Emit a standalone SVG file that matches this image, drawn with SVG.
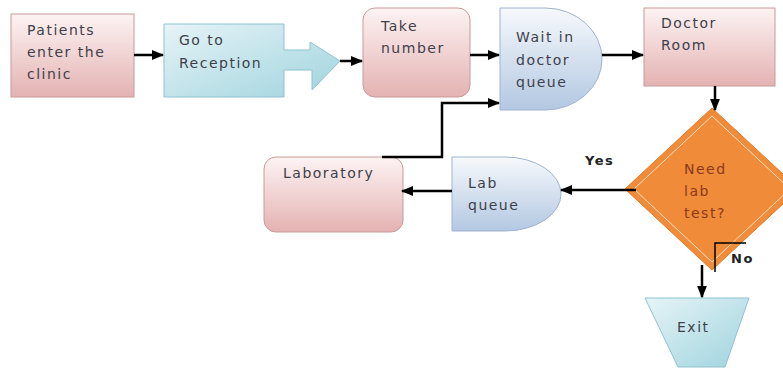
<svg xmlns="http://www.w3.org/2000/svg" width="783" height="368" viewBox="0 0 783 368">
<defs>
<linearGradient id="pink" x1="0" y1="0" x2="0" y2="1"><stop offset="0" stop-color="#fdf3f3"/><stop offset="1" stop-color="#e4b2b2"/></linearGradient>
<linearGradient id="teal" x1="0" y1="0" x2="1" y2="1"><stop offset="0" stop-color="#e6f4f7"/><stop offset="1" stop-color="#9fd3de"/></linearGradient>
<linearGradient id="blue" x1="0" y1="0" x2="0" y2="1"><stop offset="0" stop-color="#f6f9fc"/><stop offset="1" stop-color="#b3c8e2"/></linearGradient>
<marker id="ah" viewBox="0 0 10 10" refX="9" refY="5" markerWidth="5" markerHeight="5" orient="auto-start-reverse" markerUnits="strokeWidth"><path d="M0,1 L10,5 L0,9 z" fill="#000"/></marker>
<style>
.pk{fill:url(#pink);stroke:#c99a9a;stroke-width:1}
.tl{fill:url(#teal);stroke:#8fc3cf;stroke-width:1}
.bl{fill:url(#blue);stroke:#9fb3cf;stroke-width:1}
.t{font-family:"DejaVu Sans",sans-serif;font-size:14px;fill:#3f3f4a;letter-spacing:1.5px}
.d{fill:#8a3a1a}
.c{fill:none;stroke:#000;stroke-width:2.5}
.lb{font-family:"DejaVu Sans",sans-serif;font-size:13px;font-weight:bold;fill:#222;letter-spacing:1.5px}
</style>
</defs>
<g id="patients"><rect class="pk" x="11" y="14" width="123" height="83"/><text class="t" x="27" y="35">Patients</text><text class="t" x="27" y="57">enter the</text><text class="t" x="27" y="79">clinic</text></g>
<g id="reception"><path class="tl" d="M164,24 H284 V50 H310 V42 L340,61 L312,90 V70 H284 V97 H164 Z"/><text class="t" x="179" y="45">Go to</text><text class="t" x="179" y="68">Reception</text></g>
<g id="take"><rect class="pk" x="363" y="8" width="107" height="89" rx="12"/><text class="t" x="381" y="31">Take</text><text class="t" x="381" y="53">number</text></g>
<g id="waitq"><path class="bl" d="M500,8 H545 A57,51 0 0 1 545,110 H500 Z"/><text class="t" x="516" y="42">Wait in</text><text class="t" x="516" y="65">doctor</text><text class="t" x="516" y="87">queue</text></g>
<g id="doctor"><rect class="pk" x="644" y="8" width="131" height="78"/><text class="t" x="661" y="28">Doctor</text><text class="t" x="661" y="50">Room</text></g>
<g id="decision"><path d="M712,108 L799,189 L712,270 L625,189 Z" fill="#f08b3a" stroke="#e07b2a"/><path d="M712,116 L790,189 L712,262 L634,189 Z" fill="none" stroke="#fde0c4" stroke-width="1"/><text class="t d" x="684" y="174">Need</text><text class="t d" x="684" y="196">lab</text><text class="t d" x="684" y="218">test?</text></g>
<g id="labq"><path class="bl" d="M452,157 H505 A56,37 0 0 1 505,231 H452 Z"/><text class="t" x="468" y="188">Lab</text><text class="t" x="468" y="210">queue</text></g>
<g id="lab"><rect class="pk" x="264" y="157" width="139" height="75" rx="12"/><text class="t" x="283" y="178">Laboratory</text></g>
<g id="exit"><path class="tl" d="M645,298 H749 L725,367 H678 Z"/><text class="t" x="677" y="332">Exit</text></g>
<g id="connectors">
<line class="c" x1="134" y1="55" x2="163" y2="55" marker-end="url(#ah)"/>
<line class="c" x1="340" y1="61" x2="362" y2="61" marker-end="url(#ah)"/>
<line class="c" x1="470" y1="55" x2="499" y2="55" marker-end="url(#ah)"/>
<line class="c" x1="602" y1="55" x2="643" y2="55" marker-end="url(#ah)"/>
<line class="c" x1="715" y1="86" x2="715" y2="110" marker-end="url(#ah)"/>
<line class="c" x1="636" y1="190" x2="561" y2="190" marker-end="url(#ah)"/>
<line class="c" x1="452" y1="191" x2="402" y2="191" marker-end="url(#ah)"/>
<polyline class="c" points="382,157 442,157 442,103 499,103" marker-end="url(#ah)"/>
<line class="c" x1="702" y1="265" x2="702" y2="297" marker-end="url(#ah)"/>
<polyline fill="none" stroke="#000" stroke-width="1.5" points="715,272 715,243 746,243"/>
<text class="lb" x="585" y="165">Yes</text>
<text class="lb" x="731" y="263">No</text>
</g>
</svg>
